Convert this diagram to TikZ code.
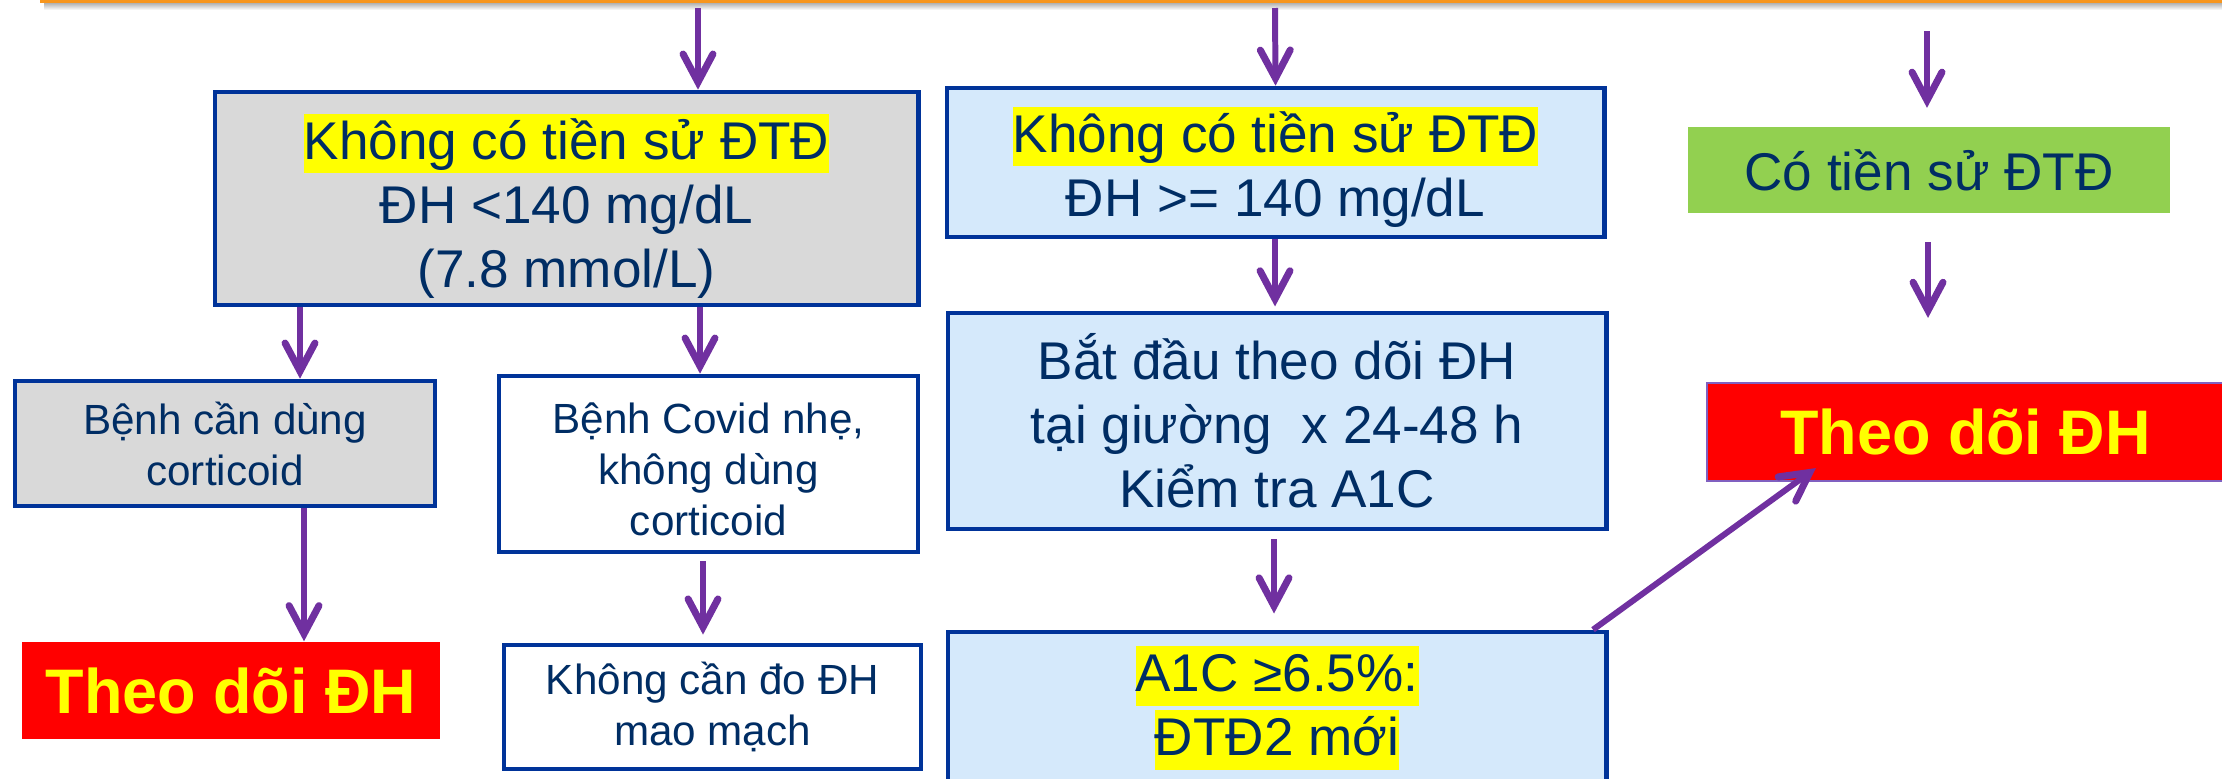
\documentclass[tikz,border=0pt]{standalone}
\usepackage{fontspec}
\setmainfont{Liberation Sans}
\usetikzlibrary{arrows.meta,calc}

\definecolor{boxblue}{RGB}{0,51,153}
\definecolor{navytext}{RGB}{0,45,100}
\definecolor{boxgrey}{RGB}{217,217,217}
\definecolor{boxlight}{RGB}{213,233,251}
\definecolor{boxgreen}{RGB}{146,208,80}
\definecolor{alarmred}{RGB}{255,0,0}
\definecolor{hlyellow}{RGB}{255,255,0}
\definecolor{flowpurple}{RGB}{112,48,160}
\definecolor{redborder}{RGB}{128,96,192}
\definecolor{barorange}{RGB}{247,150,30}

\newcommand\bigfont{\fontsize{15.1pt}{18.2pt}\selectfont}
\newcommand\smallfont{\fontsize{12pt}{14.5pt}\selectfont}
\newcommand\alarmfont{\fontsize{17.9pt}{21pt}\selectfont\bfseries}
\newcommand\hl[1]{{\setlength{\fboxsep}{0pt}\colorbox{hlyellow}{\rule[-0.26em]{0pt}{1.12em}#1}}}
\newcommand\tophgt[1]{\rule{0pt}{#1}}

\begin{document}
\begin{tikzpicture}[x=0.01cm,y=-0.01cm,
    box/.style={draw=boxblue, line width=1.3pt, text=navytext, align=center, inner sep=0pt, font=\bigfont},
    greybox/.style={box, fill=boxgrey},
    bluebox/.style={box, fill=boxlight},
    whitebox/.style={box, fill=white, font=\smallfont},
    alarm/.style={fill=alarmred, text=hlyellow, inner sep=0pt, font=\alarmfont},
    flow/.style={draw=flowpurple, line width=1.7pt, -{Straight Barb[length=8pt,width=8.5pt,line width=2pt,line cap=round]}}]
        \useasboundingbox (0,0) rectangle (2222,778);

        % Draw the top bar
        \shade[top color=black!30, bottom color=white] (44,3) rectangle (2240,10);
        \fill[barorange] (40,-20) rectangle (2240,3);
        \coordinate (top1) at (698,8);
        \coordinate (top2) at (1275,8);
        \coordinate (top3) at (1927,31);

        % Add the boxes
        \node[greybox, minimum width=7.03cm, minimum height=2.13cm] (noDMlow) at (566.5,198.5)
            {\tophgt{1.15em}\hl{Không có tiền sử ĐTĐ}\\ ĐH <140 mg/dL\\ (7.8 mmol/L)};
        \node[bluebox, minimum width=6.57cm, minimum height=1.49cm] (noDMhigh) at (1275.5,162.5)
            {\tophgt{1.03em}\hl{Không có tiền sử ĐTĐ}\\ ĐH >= 140 mg/dL};
        \node[box, draw=none, fill=boxgreen, minimum width=4.82cm, minimum height=0.86cm] (hasDM) at (1929,170)
            {Có tiền sử ĐTĐ};
        \node[alarm, draw=redborder, line width=0.6pt, minimum width=5.17cm, minimum height=0.98cm] (watchR) at (1965.5,432)
            {Theo dõi ĐH};

        \node[whitebox, fill=boxgrey, minimum width=4.20cm, minimum height=1.25cm] (steroid) at (225,443.5)
            {Bệnh cần dùng\\ corticoid};
        \node[alarm, minimum width=4.18cm, minimum height=0.97cm] (watchL) at (231,690.5)
            {Theo dõi ĐH};
        \node[whitebox, minimum width=4.19cm, minimum height=1.76cm] (mild) at (708.5,464)
            {\tophgt{0.98em}Bệnh Covid nhẹ,\\ không dùng\\ corticoid};
        \node[whitebox, minimum width=4.17cm, minimum height=1.24cm] (nocheck) at (712.5,707)
            {Không cần đo ĐH\\ mao mạch};

        \node[bluebox, minimum width=6.58cm, minimum height=2.16cm] (bedside) at (1277,421)
            {Bắt đầu theo dõi ĐH\\ tại giường\ \ x 24-48 h\\ Kiểm tra A1C};
        \node[bluebox, minimum width=6.58cm, minimum height=1.52cm] (newDM) at (1277,708)
            {\hl{A1C ≥6.5\%:}\\ \hl{ĐTĐ2 mới}};

        % Draw the arrows
        \draw[flow] (top1) -- (noDMlow.north -| top1);
        \draw[flow] (top2) -- (noDMhigh.north);
        \draw[flow, shorten >=4.8pt] (top3) -- (hasDM.north -| top3);
        \draw[flow] (noDMlow.south -| 300,0) -- (steroid.north -| 300,0);
        \draw[flow] (noDMlow.south -| 700,0) -- (mild.north -| 700,0);
        \draw[flow] (steroid.south -| 304,0) -- (watchL.north -| 304,0);
        \draw[flow, shorten <=2pt, shorten >=2.3pt] (mild.south -| 703,0) -- (nocheck.north -| 703,0);
        \draw[flow, shorten >=1.2pt] (noDMhigh.south -| 1275,0) -- (bedside.north -| 1275,0);
        \draw[flow, shorten <=2.3pt, shorten >=4.6pt] (bedside.south -| 1274,0) -- (newDM.north -| 1274,0);
        \draw[flow, shorten <=7.7pt, shorten >=18.2pt] (hasDM.south -| 1928,0) -- (watchR.north -| 1928,0);
        \draw[flow] (newDM.north -| 1593,0) -- ($(watchR.south west)+(110,-14)$);
    \end{tikzpicture}
\end{document}
